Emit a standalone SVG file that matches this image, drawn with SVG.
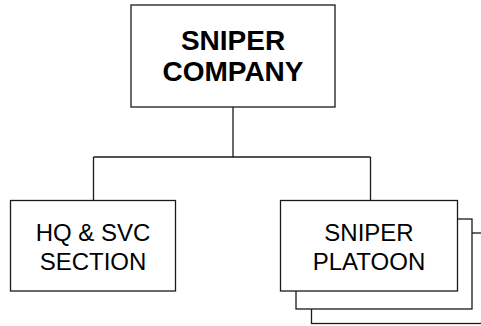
<svg xmlns="http://www.w3.org/2000/svg" width="481" height="326" viewBox="0 0 481 326">
<style>
.box{fill:#fff;stroke:#1a1a1a;stroke-width:1.3}
.ln{fill:none;stroke:#1a1a1a;stroke-width:1.3}
.t{font-family:"Liberation Sans",Arial,sans-serif;font-size:24px;fill:#000;text-anchor:middle}
.b{font-weight:bold;font-size:28px}
</style>
<rect width="481" height="326" fill="#fff"/>
<g id="connectors">
<path class="ln" d="M233,107 V157 M93.5,157 H370.5 M93.5,157 V200.5 M370.5,157 V200.5"/>
</g>
<g id="company">
<rect class="box" x="131" y="5" width="204" height="102"/>
<text class="t b" x="233" y="50">SNIPER</text>
<text class="t b" x="233" y="81">COMPANY</text>
</g>
<g id="hq">
<rect class="box" x="10.5" y="200.5" width="165" height="90.5"/>
<text class="t" x="93" y="241">HQ &amp; SVC</text>
<text class="t" x="93" y="269.5">SECTION</text>
</g>
<g id="platoon">
<rect class="box" x="311.5" y="233" width="177" height="90.5"/>
<rect class="box" x="296" y="219" width="176" height="90"/>
<rect class="box" x="280.5" y="200.5" width="177" height="90.5"/>
<text class="t" x="369" y="241">SNIPER</text>
<text class="t" x="369" y="269.5">PLATOON</text>
</g>
</svg>
